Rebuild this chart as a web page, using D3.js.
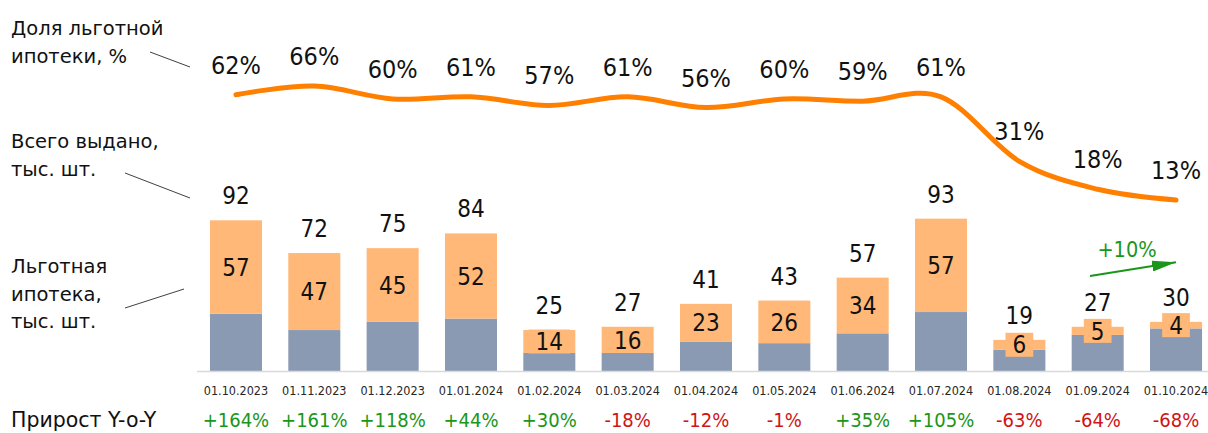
<!DOCTYPE html>
<html>
<head>
<meta charset="utf-8">
<script src="https://cdn.jsdelivr.net/npm/d3@7"></script>
<style>
  html, body { margin: 0; padding: 0; background: #fff; }
  svg { display: block; font-family: "DejaVu Sans Condensed", "DejaVu Sans", sans-serif; font-stretch: condensed; }
  .words { font-family: "DejaVu Sans", sans-serif; font-stretch: normal; }
</style>
</head>
<body>
<div id="content"></div>
<script>
const dates = ["01.10.2023","01.11.2023","01.12.2023","01.01.2024","01.02.2024","01.03.2024","01.04.2024",
               "01.05.2024","01.06.2024","01.07.2024","01.08.2024","01.09.2024","01.10.2024"];
const totals = [92, 72, 75, 84, 25, 27, 41, 43, 57, 93, 19, 27, 30];
const subsidized = [57, 47, 45, 52, 14, 16, 23, 26, 34, 57, 6, 5, 4];
const share = [62, 66, 60, 61, 57, 61, 56, 60, 59, 61, 31, 18, 13];
const yoy = [164, 161, 118, 44, 30, -18, -12, -1, 35, 105, -63, -64, -68];

const w = 1208, h = 433;
const orangeBar = "#FFB878", grayBar = "#8A9AB3", lineColor = "#FF8000";
const green = "#1A961A", red = "#D01414";

const svg = d3.select("#content").append("svg").attr("width", w).attr("height", h);

const x = d3.scaleBand().domain(dates)
  .range([196.8, 1215.2]).paddingInner(0.336).paddingOuter(0.168);
const y = d3.scaleLinear().domain([0, 100]).range([371, 207.2]);
const yShare = d3.scaleLinear().domain([0, 100]).range([228, 13]);

const rows = dates.map((d, i) => ({date: d, total: totals[i], sub: subsidized[i], share: share[i], yoy: yoy[i]}));

// bars: gray = non-subsidized part at bottom, orange on top
const g = svg.append("g");
g.selectAll("rect.gray").data(rows).enter().append("rect")
  .attr("class", "gray")
  .attr("x", d => x(d.date)).attr("width", x.bandwidth())
  .attr("y", d => y(d.total - d.sub))
  .attr("height", d => y(0) - y(d.total - d.sub))
  .attr("fill", grayBar);
g.selectAll("rect.orange").data(rows).enter().append("rect")
  .attr("class", "orange")
  .attr("x", d => x(d.date)).attr("width", x.bandwidth())
  .attr("y", d => y(d.total))
  .attr("height", d => y(d.total - d.sub) - y(d.total))
  .attr("fill", orangeBar);

// axis line
svg.append("line").attr("x1", 197).attr("x2", w).attr("y1", 371.5).attr("y2", 371.5)
  .attr("stroke", "#D9D9D9").attr("stroke-width", 1.5);

const cx = d => x(d.date) + x.bandwidth() / 2;

// orange labels with background box
const subLab = svg.append("g").selectAll("g").data(rows).enter().append("g")
  .attr("transform", d => `translate(${cx(d)},${(y(d.total) + y(d.total - d.sub)) / 2})`);
subLab.append("rect").attr("fill", orangeBar);
subLab.append("text").text(d => d.sub)
  .attr("text-anchor", "middle").attr("dy", "0.36em")
  .attr("font-size", 24).attr("fill", "#111");
subLab.each(function() {
  const t = d3.select(this).select("text").node().getBBox();
  d3.select(this).select("rect")
    .attr("x", -t.width / 2 - 7).attr("width", t.width + 14)
    .attr("y", -12).attr("height", 24);
});

// totals
svg.append("g").selectAll("text").data(rows).enter().append("text")
  .attr("x", cx).attr("y", d => y(d.total) - 16)
  .attr("text-anchor", "middle").attr("font-size", 24).attr("fill", "#111")
  .text(d => d.total);

// share line
const line = d3.line().x(cx).y(d => yShare(d.share)).curve(d3.curveCatmullRom.alpha(0));
svg.append("path").datum(rows).attr("d", line)
  .attr("fill", "none").attr("stroke", lineColor).attr("stroke-width", 5)
  .attr("stroke-linecap", "round");
svg.append("g").selectAll("text").data(rows).enter().append("text")
  .attr("x", cx).attr("y", d => yShare(d.share) - 21)
  .attr("text-anchor", "middle").attr("font-size", 25).attr("fill", "#111")
  .text(d => d.share + "%");

// date labels
svg.append("g").selectAll("text").data(rows).enter().append("text")
  .attr("x", cx).attr("y", 395)
  .attr("text-anchor", "middle").attr("font-size", 12.5).attr("fill", "#262626")
  .text(d => d.date);

// yoy
svg.append("g").selectAll("text").data(rows).enter().append("text")
  .attr("x", cx).attr("y", 427)
  .attr("text-anchor", "middle").attr("font-size", 20)
  .attr("fill", d => d.yoy >= 0 ? green : red)
  .text(d => (d.yoy >= 0 ? "+" : "") + d.yoy + "%");

svg.append("text").attr("class", "words").attr("x", 11).attr("y", 427)
  .attr("font-size", 20.5).attr("fill", "#111")
  .text("Прирост Y-o-Y");

// left annotations
const notes = [
  {lines: ["Доля льготной", "ипотеки, %"], y0: 35, l: [150, 52, 190, 67]},
  {lines: ["Всего выдано,", "тыс. шт."], y0: 148, l: [125, 173, 190, 198]},
  {lines: ["Льготная", "ипотека,", "тыс. шт."], y0: 273, l: [125, 308, 184, 289]}
];
notes.forEach(n => {
  const t = svg.append("text").attr("class", "words").attr("font-size", 19.5).attr("fill", "#111");
  n.lines.forEach((s, i) => t.append("tspan").attr("x", 11).attr("y", n.y0 + i * 27.5).text(s));
  svg.append("line").attr("x1", n.l[0]).attr("y1", n.l[1]).attr("x2", n.l[2]).attr("y2", n.l[3])
    .attr("stroke", "#404040").attr("stroke-width", 1);
});

// green growth arrow
svg.append("defs").append("marker").attr("id", "arr")
  .attr("viewBox", "0 0 10 10").attr("preserveAspectRatio", "none")
  .attr("refX", 10).attr("refY", 5)
  .attr("markerWidth", 12).attr("markerHeight", 5.5).attr("markerUnits", "strokeWidth")
  .attr("orient", "auto")
  .append("path").attr("d", "M0,0 L10,5 L0,10 Z").attr("fill", green);
svg.append("line").attr("x1", 1090).attr("y1", 276).attr("x2", 1176).attr("y2", 262.3)
  .attr("stroke", green).attr("stroke-width", 2).attr("marker-end", "url(#arr)");
svg.append("text").attr("x", 1127).attr("y", 257).attr("text-anchor", "middle")
  .attr("font-size", 21.5).attr("fill", green).text("+10%");
</script>
</body>
</html>
